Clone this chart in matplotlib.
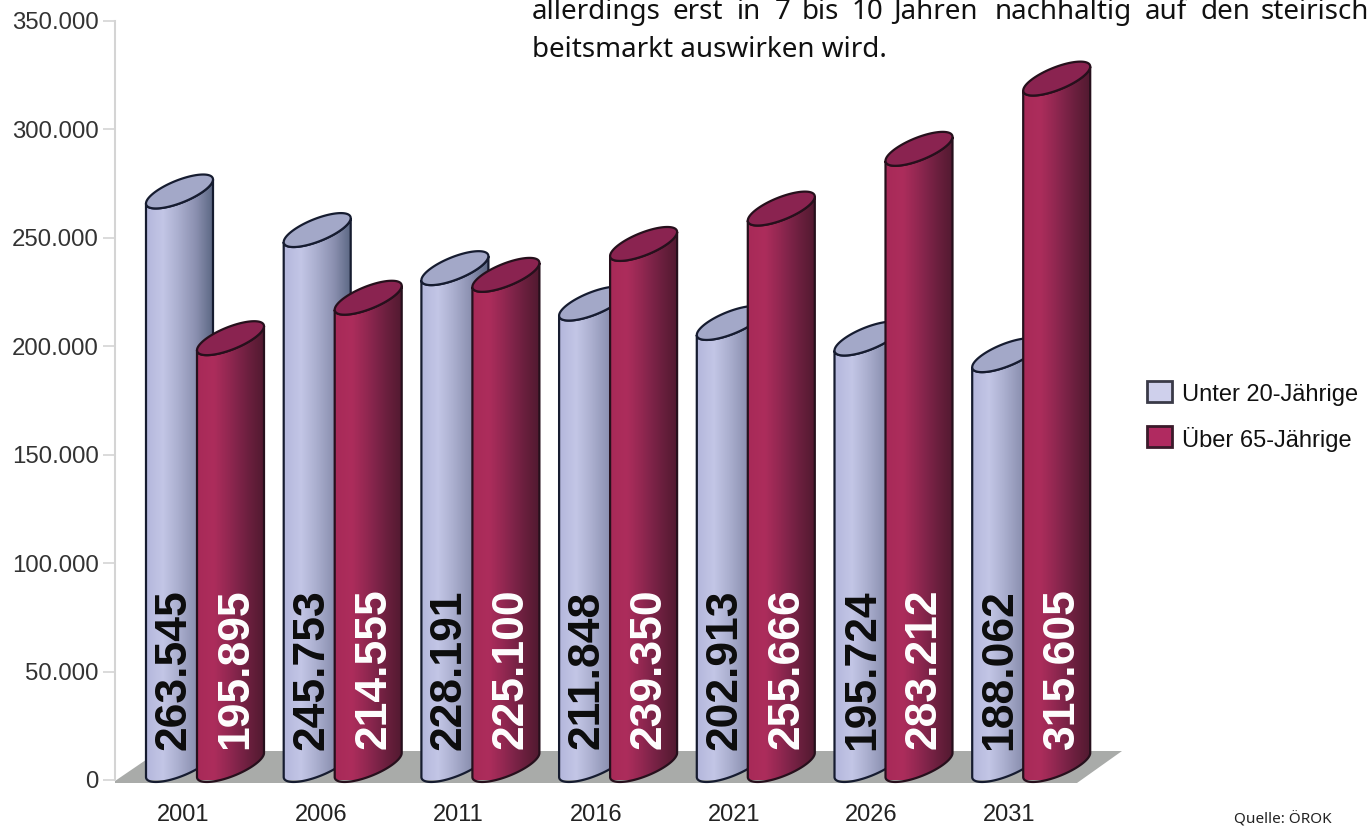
import numpy as np
import matplotlib
matplotlib.use("Agg")
from matplotlib import pyplot as plt
from matplotlib.colors import LinearSegmentedColormap
from matplotlib.legend_handler import HandlerPatch
from matplotlib.patches import Patch, PathPatch, Polygon
from matplotlib.path import Path

W, H = 1368, 827

years = ["2001", "2006", "2011", "2016", "2021", "2026", "2031"]
under_20 = [263545, 245753, 228191, 211848, 202913, 195724, 188062]
over_65 = [195895, 214555, 225100, 239350, 255666, 283212, 315605]
y_ticks = [0, 50000, 100000, 150000, 200000, 250000, 300000, 350000]

line_1 = [("allerdings", 532), ("erst", 672), ("in", 737), ("7", 775), ("bis", 802), ("10", 852),
          ("Jahren", 893), ("nachhaltig", 995), ("auf", 1145), ("den", 1200), ("steirisch", 1261)]
line_2 = "beitsmarkt auswirken wird."

# pixel geometry of the plot area
AX_L, AX_R, AX_T, AX_B = 115, 1120, 21, 780
STEP = 137.7
GROUP_PX = 183
VAL_PER_PX = 350000 / (AX_B - AX_T)

BAR_W = 67 / STEP
BLUE_OFF = (146 - GROUP_PX) / STEP
RED_OFF = (197 - GROUP_PX) / STEP
SLANT = 24 * VAL_PER_PX   # rise of the ellipse from left to right
MINOR = 12 * VAL_PER_PX
TOP_LIFT = 17 * VAL_PER_PX   # value sits at the lowest point of the top ellipse
BASE_LIFT = 15 * VAL_PER_PX

blue_cmap = LinearSegmentedColormap.from_list("blue", ["#b4b7dc", "#c3c6e6", "#a9adcd", "#8b90b0", "#5c6884"])
red_cmap = LinearSegmentedColormap.from_list("red", ["#a82a58", "#ad2d5c", "#8f2750", "#6e2040", "#521a30"])


def px_x(px):
    return (px - GROUP_PX) / STEP


def px_y(py):
    return (AX_B - py) * VAL_PER_PX


def cylinder(ax, x0, value, cmap, top_color, edge, z):
    """Slanted cylinder, value is read at the lowest point of the top ellipse."""
    cx = x0 + BAR_W / 2
    t = np.linspace(0, np.pi, 60)

    # body: right side down, front of the base ellipse, left side up, front of the top
    base = np.column_stack([cx + BAR_W / 2 * np.cos(t), BASE_LIFT + SLANT / 2 * np.cos(t) - MINOR * np.sin(t)])
    top = np.column_stack([cx + BAR_W / 2 * np.cos(t[::-1]),
                           value + TOP_LIFT + SLANT / 2 * np.cos(t[::-1]) - MINOR * np.sin(t[::-1])])
    body = Path(np.vstack([base, top, base[:1]]), closed=True)

    im = ax.imshow(np.linspace(0, 1, 128).reshape(1, -1), cmap=cmap, aspect="auto",
                   extent=(x0, x0 + BAR_W, -20000, value + 30000), zorder=z)
    clip = PathPatch(body, transform=ax.transData, fc="none", ec="none")
    ax.add_patch(clip)
    im.set_clip_path(clip)
    ax.add_patch(PathPatch(body, fc="none", ec=edge, lw=1.6, zorder=z + 0.1, clip_on=False))

    # top ellipse
    t2 = np.linspace(0, 2 * np.pi, 120)
    ell = np.column_stack([cx + BAR_W / 2 * np.cos(t2),
                           value + TOP_LIFT + SLANT / 2 * np.cos(t2) - MINOR * np.sin(t2)])
    ax.add_patch(Polygon(ell, closed=True, fc=top_color, ec=edge, lw=1.6, zorder=z + 0.2, clip_on=False))


plt.rcParams["font.family"] = ["Liberation Sans", "DejaVu Sans"]
fig = plt.figure(figsize=(W / 100, H / 100), dpi=100)
ax = fig.add_axes([AX_L / W, 1 - AX_B / H, (AX_R - AX_L) / W, (AX_B - AX_T) / H])

# floor
floor = [(115, 781), (159, 751), (1122, 751), (1077, 783), (115, 783)]
ax.add_patch(Polygon([(px_x(a), px_y(b)) for a, b in floor], closed=True, fc="#a9aba9", ec="none",
                     zorder=1, clip_on=False))

for i, (blue, red) in enumerate(zip(under_20, over_65)):
    z = 2 + i
    cylinder(ax, i + BLUE_OFF, blue, blue_cmap, "#a3a8c8", "#161c30", z)
    cylinder(ax, i + RED_OFF, red, red_cmap, "#8a2350", "#26101c", z + 0.4)
    ax.text(i + BLUE_OFF + 28 / STEP, px_y(670), f"{blue:,}".replace(",", "."), rotation=90, ha="center", va="center",
            fontsize=32, fontweight="bold", color="#0c0c0c", zorder=20)
    ax.text(i + RED_OFF + 39 / STEP, px_y(669), f"{red:,}".replace(",", "."), rotation=90, ha="center", va="center",
            fontsize=32, fontweight="bold", color="white", zorder=20)

ax.set_xlim(px_x(AX_L), px_x(AX_R))
ax.set_ylim(0, 350000)
ax.patch.set_visible(False)
for side in ["top", "right", "bottom"]:
    ax.spines[side].set_visible(False)
ax.spines["left"].set_color("#d4d4d4")
ax.spines["left"].set_linewidth(1.5)

ax.set_yticks(y_ticks)
ax.set_yticklabels([f"{v:,}".replace(",", ".") for v in y_ticks], fontsize=17.3, color="#333333")
ax.tick_params(axis="y", length=8.6, width=1.2, color="#d4d4d4", pad=3)
ax.set_xticks(range(len(years)))
ax.set_xticklabels(years, fontsize=17, color="#222222")
ax.tick_params(axis="x", length=0, pad=17)

# legend
handles = [Patch(fc="#cfd0ec", ec="#3a3a48", lw=2, label="Unter 20-Jährige"),
           Patch(fc="#b02a60", ec="#3a1a2a", lw=2, label="Über 65-Jährige")]
fig.legend(handles=handles, loc="upper left", bbox_to_anchor=(1147 / W, 1 - 381 / H), frameon=False, fontsize=17,
           handlelength=1.06, handleheight=1.23, handletextpad=0.42, labelspacing=0.85, borderpad=0, borderaxespad=0,
           labelcolor="#111111", handler_map={Patch: HandlerPatch(ypad=0.17)})

# text left over from the page around the chart
for word, x in line_1:
    fig.text(x / W, 1 - 19 / H, word, fontsize=20, family="Noto Sans", color="#111111", va="baseline")
fig.text(532 / W, 1 - 57 / H, line_2, fontsize=20, family="Noto Sans", color="#111111", va="baseline")
fig.text(1234 / W, 1 - 823 / H, "Quelle: ÖROK", fontsize=11, family="Noto Sans", color="#222222", va="baseline")

fig.savefig("out.png", dpi=100)
